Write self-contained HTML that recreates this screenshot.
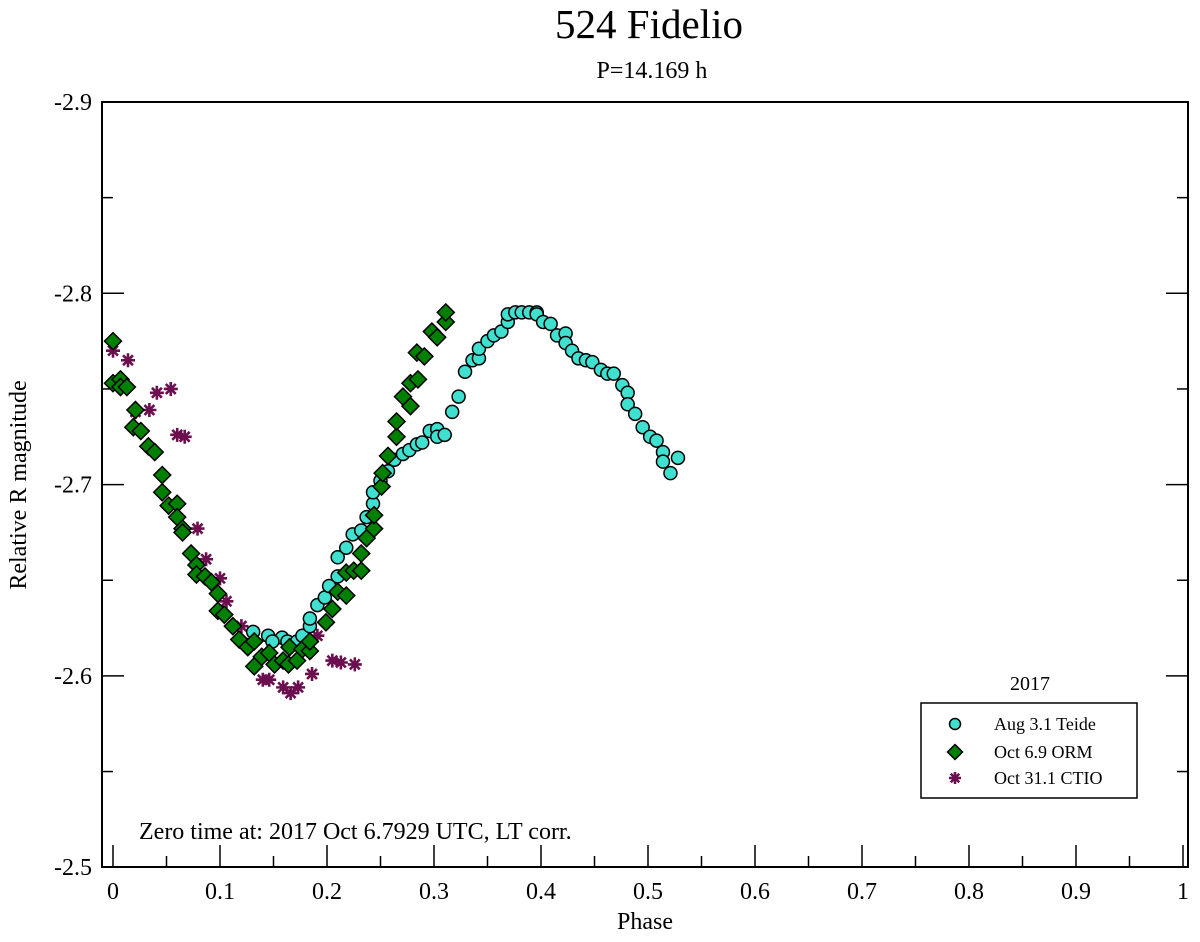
<!DOCTYPE html>
<html><head><meta charset="utf-8"><style>
body{margin:0;background:#fff;}
svg text{font-family:"Liberation Serif",serif;fill:#000;}
</style></head><body>
<svg id="chart" width="1200" height="937" viewBox="0 0 1200 937" xmlns="http://www.w3.org/2000/svg">
<text x="649" y="38" font-size="41" text-anchor="middle">524 Fidelio</text>
<text x="652" y="78" font-size="24" text-anchor="middle">P=14.169 h</text>
<rect x="102" y="102" width="1086" height="765" fill="none" stroke="#000" stroke-width="2"/>
<g id="axes"></g>
<g id="marks"></g>
<text x="645" y="929" font-size="24" text-anchor="middle">Phase</text>
<text transform="translate(26,485) rotate(-90)" font-size="24" text-anchor="middle">Relative R magnitude</text>
<text x="139" y="839" font-size="24">Zero time at: 2017 Oct 6.7929 UTC, LT corr.</text>
<text x="1030" y="690" font-size="20" text-anchor="middle">2017</text>
<rect x="921" y="703" width="216" height="95" fill="#fff" stroke="#000" stroke-width="1.5"/>
<g id="legend"></g>
</svg>
<script>
const xTicks=[0,0.1,0.2,0.3,0.4,0.5,0.6,0.7,0.8,0.9,1];
const xTickLabels=["0","0.1","0.2","0.3","0.4","0.5","0.6","0.7","0.8","0.9","1"];
const yTicks=[-2.9,-2.8,-2.7,-2.6,-2.5];
const yTickLabels=["-2.9","-2.8","-2.7","-2.6","-2.5"];
const seriesNames=["Aug 3.1 Teide","Oct 6.9 ORM","Oct 31.1 CTIO"];
const teidePhase=[.131,.145,.158,.149,.163,.172,.177,.184,.184,.191,.198,.202,.210,.210,.218,.224,.232,.237,.243,.243,.250,.257,.263,.271,.277,.284,.289,.296,.303,.303,.310,.317,.323,.329,.336,.342,.342,.350,.356,.363,.369,.369,.376,.382,.389,.396,.396,.402,.409,.415,.423,.423,.429,.435,.442,.448,.456,.462,.468,.476,.481,.481,.488,.495,.502,.508,.514,.514,.521,.528];
const teideMag=[-2.623,-2.621,-2.620,-2.618,-2.618,-2.618,-2.621,-2.626,-2.630,-2.637,-2.641,-2.647,-2.652,-2.662,-2.667,-2.674,-2.676,-2.683,-2.690,-2.696,-2.702,-2.707,-2.713,-2.716,-2.718,-2.721,-2.722,-2.728,-2.729,-2.725,-2.726,-2.738,-2.746,-2.759,-2.765,-2.766,-2.771,-2.775,-2.778,-2.780,-2.785,-2.789,-2.790,-2.790,-2.790,-2.790,-2.789,-2.785,-2.784,-2.778,-2.779,-2.774,-2.770,-2.766,-2.765,-2.764,-2.760,-2.758,-2.758,-2.752,-2.748,-2.742,-2.737,-2.730,-2.725,-2.723,-2.717,-2.712,-2.706,-2.714];
const ormPhase=[0,0,.007,.007,.013,.021,.019,.026,.033,.039,.046,.046,.052,.060,.060,.065,.065,.073,.078,.078,.086,.092,.098,.098,.104,.112,.118,.126,.132,.132,.139,.146,.151,.159,.164,.165,.172,.177,.184,.184,.199,.205,.210,.218,.218,.225,.232,.232,.237,.244,.244,.251,.252,.257,.265,.265,.271,.278,.278,.285,.284,.291,.298,.303,.311,.311];
const ormMag=[-2.775,-2.753,-2.755,-2.751,-2.751,-2.739,-2.730,-2.728,-2.720,-2.717,-2.705,-2.696,-2.689,-2.690,-2.683,-2.677,-2.675,-2.664,-2.658,-2.653,-2.652,-2.649,-2.643,-2.634,-2.632,-2.626,-2.619,-2.615,-2.618,-2.605,-2.610,-2.612,-2.606,-2.608,-2.606,-2.615,-2.608,-2.614,-2.613,-2.618,-2.628,-2.635,-2.644,-2.642,-2.654,-2.655,-2.655,-2.664,-2.672,-2.677,-2.684,-2.699,-2.706,-2.715,-2.725,-2.733,-2.746,-2.741,-2.753,-2.755,-2.769,-2.767,-2.780,-2.777,-2.785,-2.790];
const ctioPhase=[0,.014,.021,.034,.041,.054,.060,.067,.079,.087,.100,.106,.120,.140,.146,.159,.166,.173,.186,.191,.205,.213,.226];
const ctioMag=[-2.770,-2.765,-2.738,-2.739,-2.748,-2.750,-2.726,-2.725,-2.677,-2.661,-2.651,-2.639,-2.626,-2.598,-2.598,-2.594,-2.591,-2.594,-2.601,-2.621,-2.608,-2.607,-2.606];

const NS="http://www.w3.org/2000/svg";
const X=p=>113+p*1070;
const Y=m=>102+(m+2.9)*1913;
function mk(tag,attrs,parent){const e=document.createElementNS(NS,tag);for(const k in attrs)e.setAttribute(k,attrs[k]);parent.appendChild(e);return e;}
const axes=document.getElementById('axes');
xTicks.forEach((t,i)=>{
  const x=X(t);
  const l=mk('line',{x1:x,x2:x,y1:867,y2:845,stroke:'#000','stroke-width':1.5},axes);
  
  
  if(i<xTicks.length-1){const xm=X(t+0.05);
    const m1=mk('line',{x1:xm,x2:xm,y1:867,y2:856,stroke:'#000','stroke-width':1.5},axes);
    
    }
  const tx=mk('text',{x:x,y:899,'font-size':24,'text-anchor':'middle'},axes);
  tx.textContent=xTickLabels[i];
  
  
});
yTicks.forEach((t,i)=>{
  const y=Y(t);
  const l=mk('line',{x1:102,x2:124,y1:y,y2:y,stroke:'#000','stroke-width':1.5},axes);
  
  
  const l2=mk('line',{x1:1166,x2:1188,y1:y,y2:y,stroke:'#000','stroke-width':1.5},axes);
  
  
  if(i<yTicks.length-1){const ym=Y(t+0.05);
    const m1=mk('line',{x1:102,x2:113,y1:ym,y2:ym,stroke:'#000','stroke-width':1.5},axes);
    
    
    const m2=mk('line',{x1:1177,x2:1188,y1:ym,y2:ym,stroke:'#000','stroke-width':1.5},axes);
    
    }
  const tx=mk('text',{x:92,y:y+8,'font-size':24,'text-anchor':'end'},axes);
  tx.textContent=yTickLabels[i];
  
  
});
function circle(x,y,p,r){return mk('circle',{cx:x,cy:y,r:r||6.5,fill:'#40e0d0',stroke:'#000','stroke-width':1.5},p);}
function diamond(x,y,p,s){s=s||8.5;return mk('polygon',{points:`${x},${y-s} ${x+s},${y} ${x},${y+s} ${x-s},${y}`,fill:'#008000',stroke:'#000','stroke-width':1.5},p);}
function star(x,y,p,s){s=s||7;let d='';for(let k=0;k<4;k++){const a=k*Math.PI/4;const dx=Math.cos(a)*s,dy=Math.sin(a)*s;d+=`M${x-dx},${y-dy}L${x+dx},${y+dy}`;}return mk('path',{d:d,stroke:'#6b0f4f','stroke-width':2.6,fill:'none'},p);}
const marks=document.getElementById('marks');
ctioPhase.forEach((p,i)=>{const e=star(X(p),Y(ctioMag[i]),marks);
  
  });
teidePhase.forEach((p,i)=>{const e=circle(X(p),Y(teideMag[i]),marks);
  
  });
ormPhase.forEach((p,i)=>{const e=diamond(X(p),Y(ormMag[i]),marks);
  
  });
const lg=document.getElementById('legend');
const ly=[724,752,778];
const makers=[circle,diamond,star];
seriesNames.forEach((n,i)=>{
  const m=makers[i](955,ly[i],lg,i==0?5.5:(i==1?7.5:6));
  
  
  const t=mk('text',{x:994,y:ly[i]+6,'font-size':18},lg);
  t.textContent=n;
  
  
});
</script>
</body></html>
